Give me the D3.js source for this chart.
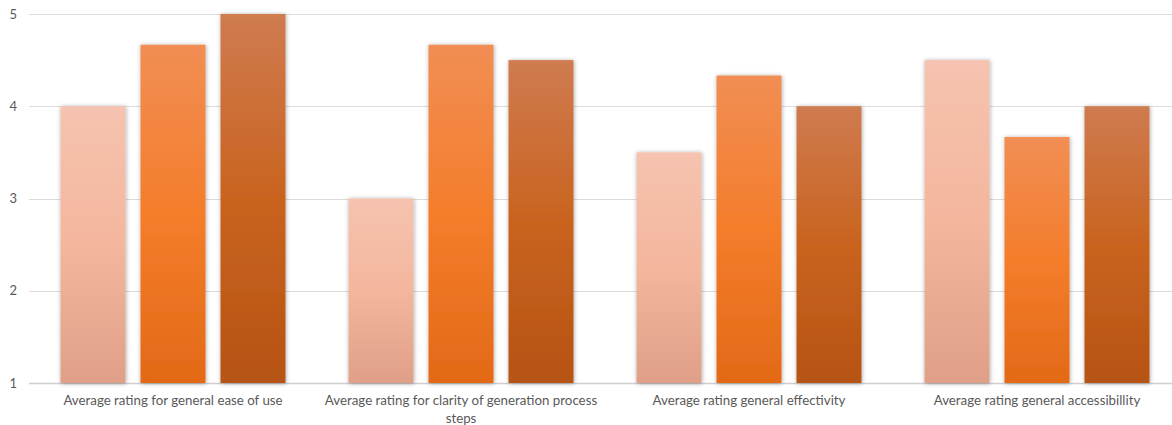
<!DOCTYPE html>
<html><head><meta charset="utf-8">
<script src="https://cdn.jsdelivr.net/npm/d3@7"></script>
<style>body{margin:0;background:#fff}svg{display:block}</style>
</head><body>
<svg id="c" width="1172" height="425"></svg>
<script>
const categories = [
  "Average rating for general ease of use",
  "Average rating for clarity of generation process steps",
  "Average rating general effectivity",
  "Average rating general accessibillity"
];
const seriesNames = ["S1","S2","S3"];
const series1 = [4.0, 3.0, 3.5, 4.5];
const series2 = [4.667, 4.667, 4.333, 3.667];
const series3 = [5.0, 4.5, 4.0, 4.0];
const yTicks = [1,2,3,4,5];
const seriesColors = [
  ["#F5C3B0","#F4B69D","#DF9F88"],
  ["#F18E54","#F47D2B","#E36917"],
  ["#CF7B50","#C9631F","#B65314"]
];

const svg = d3.select("#c");
const W = 1172, H = 425;
const mLeft = 29, mTop = 14, mBottom = 383;

const x0 = d3.scaleBand().domain(categories).range([mLeft, mLeft + 4*288])
  .paddingInner(0.21875).paddingOuter(0.109375);
const x1 = d3.scaleBand().domain(seriesNames).range([0, x0.bandwidth()]).paddingInner(0.1875).paddingOuter(0);
const y = d3.scaleLinear().domain([1,5]).range([mBottom, mTop]);

const defs = svg.append("defs");
seriesColors.forEach((c,i)=>{
  const g = defs.append("linearGradient").attr("id","g"+i).attr("x1",0).attr("y1",0).attr("x2",0).attr("y2",1);
  g.append("stop").attr("offset","0%").attr("stop-color",c[0]);
  g.append("stop").attr("offset","50%").attr("stop-color",c[1]);
  g.append("stop").attr("offset","100%").attr("stop-color",c[2]);
});
const f = defs.append("filter").attr("id","sh").attr("x","-20%").attr("y","-10%").attr("width","140%").attr("height","120%");
f.append("feDropShadow").attr("dx",0.5).attr("dy",0.5).attr("stdDeviation",2).attr("flood-color","#000").attr("flood-opacity",0.35);

// gridlines
svg.append("g").selectAll("line").data(yTicks).join("line")
  .attr("x1", mLeft).attr("x2", W)
  .attr("y1", d=>Math.round(y(d))+0.5).attr("y2", d=>Math.round(y(d))+0.5)
  .attr("stroke", d=> d===1 ? "#D0D0D0" : "#DCDCDC").attr("stroke-width", d=> d===1?1.5:1);

// y labels
const yAxis = d3.axisLeft(y).tickValues(yTicks).tickSize(0).tickPadding(0).tickFormat(d3.format("d"));
const ya = svg.append("g").attr("transform","translate(17,0)").call(yAxis);
ya.select(".domain").remove();
ya.selectAll("text").attr("fill","#595959").attr("font-family","Lato, 'Open Sans', sans-serif").attr("font-size","13px");

const data = [series1, series2, series3];
const rows = categories.map((c,ci)=>({cat:c, vals: seriesNames.map((s,si)=>({s, si, v:data[si][ci]}))}));

const gr = svg.append("g").selectAll("g").data(rows).join("g")
  .attr("transform", d=>`translate(${x0(d.cat)},0)`);
gr.selectAll("rect").data(d=>d.vals).join("rect")
  .attr("x", d=>x1(d.s)).attr("width", x1.bandwidth())
  .attr("y", d=>y(d.v)).attr("height", d=>y(1)-y(d.v))
  .attr("fill", d=>`url(#g${d.si})`).attr("filter","url(#sh)");

// x labels
const xAxis = d3.axisBottom(x0).tickSize(0).tickPadding(0);
const xa = svg.append("g").attr("transform",`translate(0,${mBottom})`).call(xAxis);
xa.select(".domain").remove();
xa.selectAll("text").attr("fill","#595959").attr("font-family","Lato, 'Open Sans', sans-serif").attr("font-size","13.3px")
  .attr("y", 13)
  .each(function(d){
    const t = d3.select(this); t.text(null);
    const words = d.split(" "); let line=[]; const lines=[];
    const tmp = t.append("tspan");
    words.forEach(w=>{
      line.push(w); tmp.text(line.join(" "));
      if (tmp.node().getComputedTextLength()>285 && line.length>1){ line.pop(); lines.push(line.join(" ")); line=[w]; }
    });
    lines.push(line.join(" ")); tmp.remove();
    lines.forEach((l,i)=>t.append("tspan").attr("x",0).attr("dy", i===0? "0.71em":"1.3em").text(l));
  });
</script>
</body></html>
